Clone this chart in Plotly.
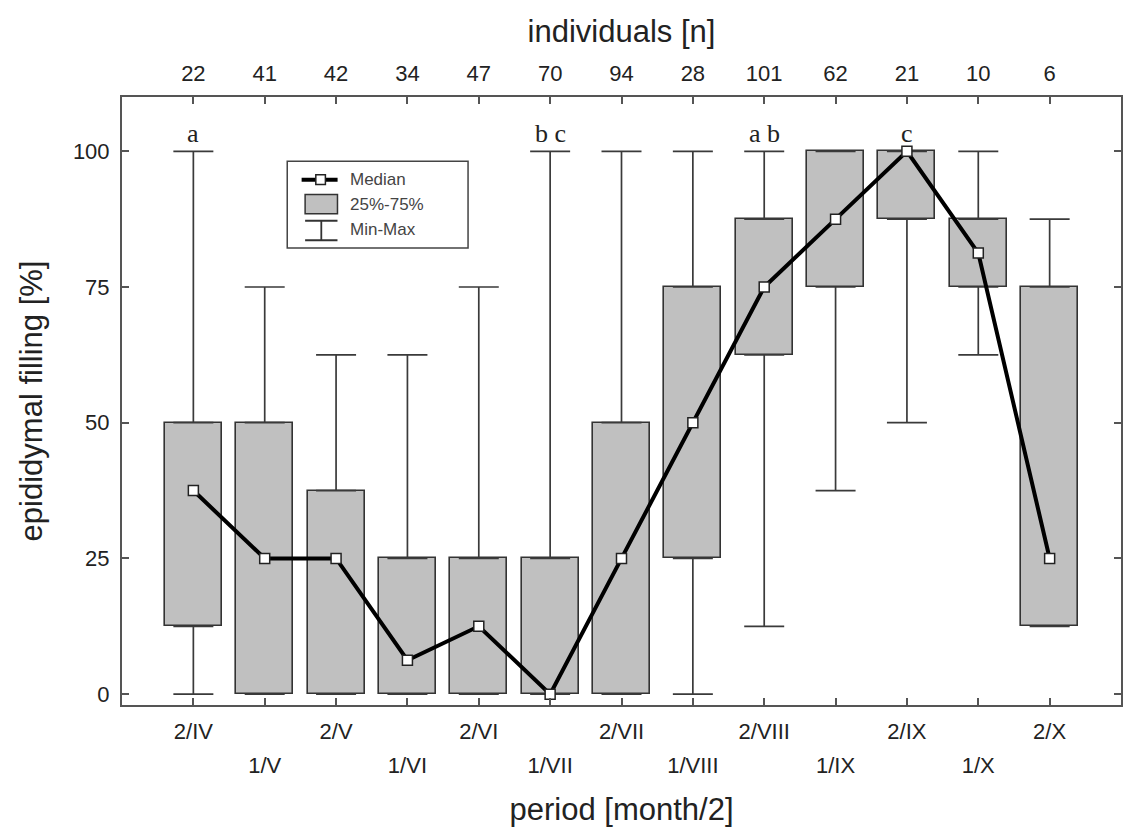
import plotly.graph_objects as go

# ---------------- data ----------------
periods = ["2/IV", "1/V", "2/V", "1/VI", "2/VI", "1/VII", "2/VII",
           "1/VIII", "2/VIII", "1/IX", "2/IX", "1/X", "2/X"]
n_individuals = [22, 41, 42, 34, 47, 70, 94, 28, 101, 62, 21, 10, 6]
minimum = [0, 0, 0, 0, 0, 0, 0, 0, 12.5, 37.5, 50, 62.5, 12.5]
q1 = [12.5, 0, 0, 0, 0, 0, 0, 25, 62.5, 75, 87.5, 75, 12.5]
median = [37.5, 25, 25, 6.25, 12.5, 0, 25, 50, 75, 87.5, 100, 81.25, 25]
q3 = [50, 50, 37.5, 25, 25, 25, 50, 75, 87.5, 100, 100, 87.5, 75]
maximum = [100, 75, 62.5, 62.5, 75, 100, 100, 100, 100, 100, 100, 100, 87.5]
letters = ["a", "", "", "", "", "b c", "", "", "a b", "", "c", "", ""]
y_ticks = [0, 25, 50, 75, 100]

idx = list(range(len(periods)))
FONT = "Liberation Sans, Arial, sans-serif"
TXT = "#222222"
EDGE = "#333333"
AXC = "#555555"

fig = go.Figure()

# boxes (25%-75%)
fig.add_trace(go.Bar(
    x=idx, y=[b - a for a, b in zip(q1, q3)], base=q1, width=0.8,
    marker=dict(color="#c0c0c0", line=dict(color=EDGE, width=1.6)),
    showlegend=False, hoverinfo="skip"))

# upper whiskers
fig.add_trace(go.Scatter(
    x=idx, y=q3, mode="markers",
    marker=dict(size=1, color="rgba(0,0,0,0)"),
    error_y=dict(type="data", symmetric=False,
                 array=[m - b for m, b in zip(maximum, q3)],
                 arrayminus=[0] * len(idx),
                 color="#3a3a3a", thickness=1.7, width=20),
    showlegend=False, hoverinfo="skip"))

# lower whiskers
fig.add_trace(go.Scatter(
    x=idx, y=q1, mode="markers",
    marker=dict(size=1, color="rgba(0,0,0,0)"),
    error_y=dict(type="data", symmetric=False,
                 array=[0] * len(idx),
                 arrayminus=[a - m for a, m in zip(q1, minimum)],
                 color="#3a3a3a", thickness=1.7, width=20),
    showlegend=False, hoverinfo="skip"))

# median line
fig.add_trace(go.Scatter(
    x=idx, y=median, mode="lines+markers",
    line=dict(color="black", width=4),
    marker=dict(symbol="square", size=10, color="white",
                line=dict(color="#222222", width=1.5)),
    showlegend=False, hoverinfo="skip"))

# helper traces so the extra axes are drawn
fig.add_trace(go.Scatter(x=idx, y=[None] * len(idx), xaxis="x2",
                         showlegend=False, hoverinfo="skip"))
fig.add_trace(go.Scatter(x=idx, y=[None] * len(idx), xaxis="x3",
                         showlegend=False, hoverinfo="skip"))

# significance letters
for i, t in enumerate(letters):
    if t:
        fig.add_annotation(x=i, y=maximum[i], text=t, showarrow=False,
                           yanchor="bottom", yshift=1,
                           font=dict(family="Liberation Serif, Times New Roman, serif",
                                     size=26, color=TXT))

# ---------------- custom legend ----------------
shapes = []
shapes.append(dict(type="rect", xref="paper", yref="paper",
                   x0=0.1654, x1=0.3464, y0=0.7515, y1=0.8943,
                   line=dict(color="#444444", width=1.5), fillcolor="white"))
# median symbol
shapes.append(dict(type="line", xref="paper", yref="paper",
                   x0=0.1798, x1=0.2158, y0=0.8641, y1=0.8641,
                   line=dict(color="black", width=4)))
shapes.append(dict(type="rect", xref="paper", yref="paper",
                   x0=0.1988 - 0.0048, x1=0.1988 + 0.0048,
                   y0=0.8641 - 0.0080, y1=0.8641 + 0.0080,
                   line=dict(color="#222222", width=1.5), fillcolor="white"))
# box symbol
shapes.append(dict(type="rect", xref="paper", yref="paper",
                   x0=0.1833, x1=0.2157, y0=0.8078, y1=0.8398,
                   line=dict(color=EDGE, width=1.5), fillcolor="#c0c0c0"))
# whisker symbol
for yy in (0.7965, 0.7644):
    shapes.append(dict(type="line", xref="paper", yref="paper",
                       x0=0.1833, x1=0.2157, y0=yy, y1=yy,
                       line=dict(color="#333333", width=1.8)))
shapes.append(dict(type="line", xref="paper", yref="paper",
                   x0=0.1995, x1=0.1995, y0=0.7644, y1=0.7965,
                   line=dict(color="#333333", width=1.8)))
fig.update_layout(shapes=shapes)

for label, yy in (("Median", 0.8641), ("25%-75%", 0.8225), ("Min-Max", 0.7819)):
    fig.add_annotation(xref="paper", yref="paper", x=0.2265, y=yy, text=label,
                       showarrow=False, xanchor="left", yanchor="middle",
                       font=dict(family=FONT, size=17, color="#444444"))

# ---------------- axes ----------------
xrange = [-1, 13]
fig.update_layout(
    width=1127, height=827,
    margin=dict(l=122, r=4, t=97, b=121),
    paper_bgcolor="white", plot_bgcolor="white",
    font=dict(family=FONT, color=TXT),
    bargap=0,
    xaxis=dict(range=xrange, tickmode="array", tickvals=idx,
               ticktext=[p if i % 2 == 0 else "" for i, p in enumerate(periods)],
               ticks="inside", ticklen=7, tickcolor=AXC, tickwidth=1.5,
               showline=True, linecolor=AXC, linewidth=2, showgrid=False,
               zeroline=False, tickfont=dict(size=22, color=TXT),
               ticklabelstandoff=6,
               title=dict(text="period [month/2]", font=dict(size=31, color=TXT),
                          standoff=57)),
    xaxis3=dict(range=xrange, overlaying="x", side="bottom", anchor="y",
                tickmode="array", tickvals=[i for i in idx if i % 2 == 1],
                ticktext=[p for i, p in enumerate(periods) if i % 2 == 1],
                ticks="", showline=False, showgrid=False, zeroline=False,
                tickfont=dict(size=22, color=TXT), ticklabelstandoff=45),
    xaxis2=dict(range=xrange, overlaying="x", side="top", anchor="y",
                tickmode="array", tickvals=idx,
                ticktext=[str(v) for v in n_individuals],
                ticks="inside", ticklen=7, tickcolor=AXC, tickwidth=1.5,
                showline=True, linecolor=AXC, linewidth=2, showgrid=False,
                zeroline=False, tickfont=dict(size=22, color=TXT),
                ticklabelstandoff=5,
                title=dict(text="individuals [n]", font=dict(size=31, color=TXT),
                           standoff=9)),
    yaxis=dict(range=[-2, 110], tickmode="array", tickvals=y_ticks,
               ticks="inside", ticklen=7, tickcolor=AXC, tickwidth=1.5,
               showline=True, linecolor=AXC, linewidth=2, mirror="ticks",
               showgrid=False, zeroline=False,
               tickfont=dict(size=22, color=TXT), ticklabelstandoff=6,
               title=dict(text="epididymal filling [%]", font=dict(size=31, color=TXT),
                          standoff=21)),
)

fig.write_html("out.html")
